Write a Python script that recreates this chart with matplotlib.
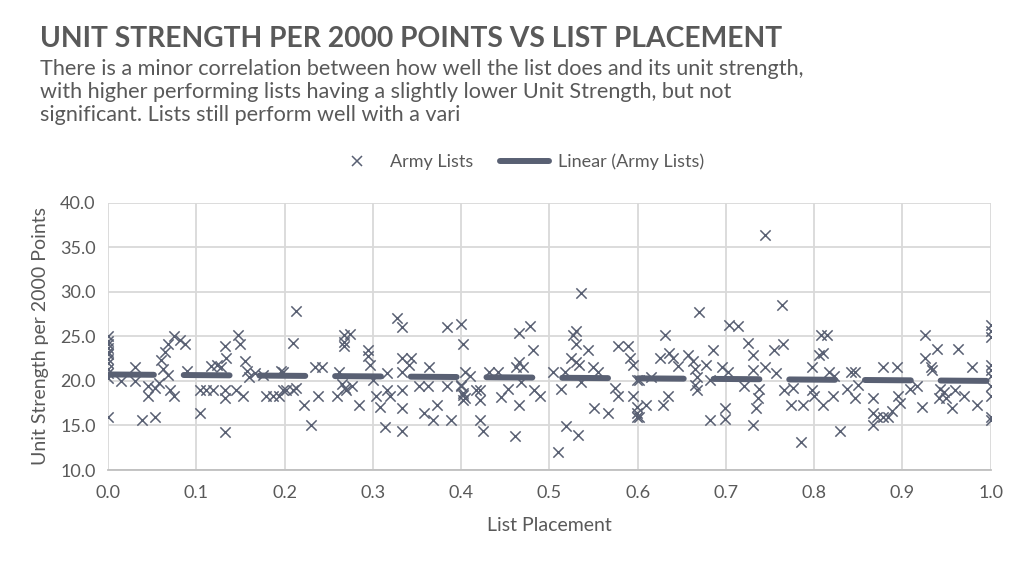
import numpy as np
import matplotlib
matplotlib.use("Agg")
import matplotlib.pyplot as plt
from matplotlib.lines import Line2D

plt.rcParams['font.family'] = ['Lato', 'DejaVu Sans']
plt.rcParams['lines.scale_dashes'] = False

# list placement (0 = best) and unit strength per 2000 points
placement = [
    0.0, 0.0, 0.0, 0.0, 0.0, 0.0, 0.0, 0.0, 0.0, 0.0, 0.0, 0.0,
    0.015, 0.03, 0.03, 0.038, 0.045, 0.045, 0.053, 0.053, 0.058, 0.06,
    0.062, 0.064, 0.068, 0.068, 0.07, 0.075, 0.075, 0.081, 0.087, 0.09,
    0.104, 0.104, 0.111, 0.119, 0.117, 0.123, 0.128, 0.133, 0.134, 0.133,
    0.133, 0.133, 0.145, 0.147, 0.149, 0.153, 0.155, 0.158, 0.16, 0.166,
    0.175, 0.179, 0.187, 0.194, 0.196, 0.198,
    0.213, 0.209, 0.198, 0.202, 0.21, 0.213, 0.222, 0.23, 0.234, 0.242,
    0.238, 0.259, 0.262, 0.267, 0.267, 0.267, 0.274, 0.265, 0.268, 0.27,
    0.276, 0.284, 0.295, 0.295, 0.297, 0.3, 0.304, 0.308, 0.314, 0.316,
    0.316, 0.319, 0.327, 0.333, 0.333, 0.333, 0.333, 0.333, 0.333, 0.343,
    0.341, 0.352, 0.358, 0.364, 0.362, 0.368, 0.373, 0.384, 0.384, 0.388,
    0.4, 0.402, 0.4, 0.402, 0.402,
    0.404, 0.41, 0.4, 0.402, 0.404, 0.417, 0.421, 0.421, 0.421, 0.425,
    0.432, 0.442, 0.445, 0.453, 0.461, 0.462, 0.466, 0.466, 0.466, 0.47,
    0.468, 0.478, 0.481, 0.483, 0.489,
    0.504, 0.51, 0.513, 0.519, 0.518, 0.525, 0.527, 0.53, 0.53, 0.53,
    0.532, 0.534, 0.536, 0.536, 0.544, 0.549, 0.551, 0.555, 0.566, 0.574,
    0.578, 0.578, 0.589, 0.591, 0.595, 0.595, 0.599, 0.599, 0.599, 0.599,
    0.602, 0.602, 0.61, 0.615, 0.629, 0.634, 0.631, 0.625, 0.636, 0.64,
    0.646, 0.657, 0.663, 0.665, 0.667, 0.665, 0.667, 0.67, 0.678, 0.682,
    0.685, 0.682, 0.695, 0.699, 0.699,
    0.702, 0.704, 0.714, 0.721, 0.725, 0.731, 0.731, 0.731, 0.734, 0.736,
    0.738, 0.744, 0.744, 0.757, 0.755, 0.763, 0.765, 0.766, 0.776, 0.774,
    0.785, 0.787, 0.797, 0.797, 0.8,
    0.806, 0.808, 0.814, 0.81, 0.817, 0.823, 0.81, 0.821, 0.829, 0.837,
    0.842, 0.846, 0.846, 0.85, 0.867, 0.867, 0.867, 0.871, 0.878, 0.878,
    0.884, 0.888, 0.894, 0.895, 0.897,
    0.909, 0.916, 0.922, 0.926, 0.926, 0.932, 0.933, 0.939, 0.943, 0.941,
    0.947, 0.949, 0.956, 0.96, 0.963, 0.97, 0.979, 0.985,
    1.0, 1.0, 1.0, 1.0, 1.0, 1.0, 1.0, 1.0, 1.0, 1.0,
]
strength = [
    25.0, 24.5, 24.1, 23.7, 23.3, 23.0, 22.5, 22.0, 21.4, 20.9, 20.3, 16.0,
    20.05, 21.6, 20.0, 15.6, 19.4, 18.3, 16.0, 19.2, 19.8, 22.4,
    21.3, 23.3, 24.1, 20.7, 19.0, 25.0, 18.3, 24.6, 24.2, 21.1,
    19.0, 16.4, 19.0, 19.0, 21.7, 21.8, 21.6, 23.9, 22.6, 19.0,
    18.1, 14.3, 19.0, 25.2, 24.2, 18.3, 22.2, 21.1, 20.5, 20.9,
    20.7, 18.3, 18.3, 18.3, 21.1, 19.0,
    27.9, 24.3, 21.0, 19.0, 19.0, 19.2, 17.3, 15.0, 21.6, 21.6,
    18.3, 18.3, 21.0, 25.2, 23.9, 24.4, 25.3, 19.7, 19.2, 19.0,
    19.4, 17.3, 23.5, 22.8, 21.8, 20.1, 18.3, 17.1, 14.8, 20.9,
    19.0, 18.3, 27.1, 26.1, 22.6, 21.0, 19.0, 17.0, 14.4, 22.6,
    21.8, 19.4, 16.4, 21.6, 19.4, 15.6, 17.3, 26.1, 19.4, 15.6,
    26.4, 24.2, 19.4, 18.6, 17.9,
    21.0, 20.6, 19.6, 18.4, 18.1, 19.0, 19.0, 17.9, 15.6, 14.4,
    21.0, 21.0, 18.2, 19.1, 13.8, 21.6, 25.4, 22.1, 17.3, 21.6,
    19.9, 26.2, 23.5, 19.0, 18.3,
    21.0, 12.0, 19.1, 14.9, 21.0, 22.6, 25.2, 25.6, 24.1, 22.1,
    13.9, 21.8, 29.9, 19.9, 23.5, 21.6, 17.0, 21.0, 16.4, 19.2,
    23.9, 18.3, 23.9, 22.6, 21.8, 18.3, 17.1, 16.4, 16.0, 20.1,
    20.1, 16.0, 17.3, 20.5, 17.3, 18.3, 25.2, 22.6, 23.1, 22.6,
    21.7, 22.9, 22.2, 21.4, 20.4, 19.6, 19.0, 27.8, 21.8, 15.6,
    23.5, 20.1, 21.6, 17.0, 15.7,
    21.0, 26.3, 26.2, 19.4, 24.3, 22.9, 21.2, 15.0, 17.0, 18.1,
    19.1, 21.6, 36.4, 20.9, 23.5, 28.5, 24.2, 19.0, 19.2, 17.3,
    13.2, 17.3, 21.6, 19.0, 18.3,
    22.9, 25.2, 25.2, 23.1, 21.0, 20.6, 17.3, 18.3, 14.4, 19.1,
    21.0, 21.0, 18.1, 19.6, 18.1, 16.4, 15.0, 16.0, 21.6, 16.0,
    16.0, 16.6, 21.6, 18.3, 17.5,
    19.1, 19.4, 17.1, 25.2, 22.6, 21.6, 21.2, 23.6, 19.1, 18.1,
    18.8, 18.1, 17.0, 19.0, 23.6, 18.3, 21.6, 17.3,
    26.3, 25.6, 24.9, 21.8, 21.2, 20.6, 19.4, 18.3, 16.0, 15.6,
]

x = np.array(placement)
y = np.array(strength)

point_color = '#596073'
text_color = '#595959'
grid_color = '#d9d9d9'

fig = plt.figure(figsize=(10.24, 5.61), dpi=100)
ax = fig.add_axes([0.1055, 0.1622, 0.862, 0.476])

ax.scatter(x, y, marker='x', s=55, color=point_color, linewidths=1.1,
           zorder=3, label='Army Lists')

# linear trendline (least squares, like Excel)
slope, intercept = np.polyfit(x, y, 1)
tx = np.array([0.0, 1.0])
ax.plot(tx, slope * tx + intercept, color=point_color, lw=4.3,
        dashes=(33, 21.5), dash_capstyle='round', solid_capstyle='round',
        zorder=4, label='Linear (Army Lists)')

ax.set_xlim(0, 1.0)
ax.set_ylim(10, 40)
ax.set_xticks(np.arange(0, 1.01, 0.1))
ax.set_yticks(np.arange(10, 40.1, 5))
ax.set_xticklabels(['%.1f' % v for v in np.arange(0, 1.01, 0.1)])
ax.set_yticklabels(['%.1f' % v for v in np.arange(10, 40.1, 5)])
ax.tick_params(length=0, labelsize=13, colors=text_color)
ax.tick_params(axis='x', pad=11)
ax.tick_params(axis='y', pad=9)
ax.grid(True, color=grid_color, lw=1.3)
ax.set_axisbelow(True)
for s in ['top', 'right', 'left']:
    ax.spines[s].set_visible(False)
ax.spines['bottom'].set_color('#bfbfbf')
ax.spines['bottom'].set_linewidth(1.3)

ax.set_xlabel('List Placement', fontsize=14, color=text_color, labelpad=11)
ax.set_ylabel('Unit Strength per 2000 Points', fontsize=14, color=text_color, labelpad=8)

handles = [
    Line2D([], [], marker='x', ls='none', color=point_color, markersize=7, mew=1.1),
    Line2D([], [], color=point_color, lw=4.3, solid_capstyle='round'),
]
fig.legend(handles, ['Army Lists', 'Linear (Army Lists)'], loc='center',
           bbox_to_anchor=(0.506, 0.711), ncol=2, frameon=False, fontsize=13,
           labelcolor=text_color, handlelength=2.7, columnspacing=1.5, handletextpad=0.5)

fig.text(0.039, 0.931, 'UNIT STRENGTH PER 2000 POINTS VS LIST PLACEMENT',
         fontsize=20.3, fontweight='bold', color=text_color, va='center')
fig.text(0.039, 0.895,
         'There is a minor correlation between how well the list does and its unit strength,\n'
         'with higher performing lists having a slightly lower Unit Strength, but not\n'
         'significant. Lists still perform well with a vari',
         fontsize=15.6, color=text_color, va='top', linespacing=1.2)

fig.savefig('out.png', dpi=100)
